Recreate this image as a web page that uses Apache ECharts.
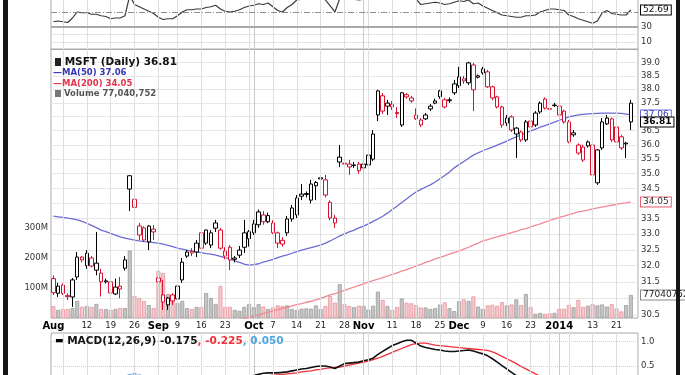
<!DOCTYPE html>
<html><head><meta charset="utf-8">
<script src="https://cdn.jsdelivr.net/npm/echarts@6/dist/echarts.min.js"></script>
<style>html,body{margin:0;padding:0;background:#fff;}#c{width:685px;height:375px;}</style>
</head><body><div id="c"></div>
<script>
// ---- trading days ----
const augDays=[1,2,5,6,7,8,9,12,13,14,15,16,19,20,21,22,23,26,27,28,29,30];
const sepDays=[3,4,5,6,9,10,11,12,13,16,17,18,19,20,23,24,25,26,27,30];
const octDays=[1,2,3,4,7,8,9,10,11,14,15,16,17,18,21,22,23,24,25,28,29,30,31];
const novDays=[1,4,5,6,7,8,11,12,13,14,15,18,19,20,21,22,25,26,27,29];
const decDays=[2,3,4,5,6,9,10,11,12,13,16,17,18,19,20,23,24,26,27,30,31];
const janDays=[2,3,6,7,8,9,10,13,14,15,16,17,21,22,23,24];

// ---- prices ----
const priorClose=31.84;
const opens=[31.60,31.15,31.40,31.08,31.04,31.65,32.27,32.00,32.24,31.86,31.77,31.50,31.50,31.13,31.37,31.92,34.93,34.14,33.26,33.20,32.75,33.16,
31.50,31.10,30.80,31.10,30.98,31.56,32.30,32.45,32.43,33.04,33.13,32.65,33.19,33.13,32.30,32.58,32.20,32.33,32.58,32.85,
33.04,33.30,33.62,33.40,33.36,33.04,32.80,33.04,33.49,33.62,34.31,34.30,34.11,34.59,34.82,34.79,34.04,33.52,35.57,35.36,35.33,35.28,35.33,
35.33,35.30,35.50,37.06,37.76,37.38,37.45,37.15,36.70,37.72,37.68,37.06,36.88,36.92,37.28,37.49,37.94,37.61,37.58,37.87,
38.13,38.31,38.24,38.91,38.45,38.61,38.65,38.09,37.72,37.35,36.77,36.99,36.38,36.45,36.17,36.84,36.70,37.17,37.64,37.29,37.40,
37.38,37.20,36.81,36.35,35.99,35.92,35.96,35.99,34.69,35.89,36.74,36.92,36.63,36.28,36.03,37.49];
const highs=[31.70,31.47,31.45,31.15,31.62,32.43,32.30,32.49,32.30,33.07,31.90,31.60,31.55,31.60,31.65,32.30,34.95,34.38,33.36,33.25,33.29,33.29,
31.92,31.56,31.04,31.15,31.47,32.24,32.49,32.55,32.81,33.10,33.15,33.13,33.46,33.20,32.58,32.65,32.30,32.62,33.46,33.13,
33.46,33.80,33.75,33.70,33.45,33.08,32.90,33.59,33.95,34.28,34.65,34.40,34.79,34.75,34.96,34.96,34.10,33.62,35.99,35.47,35.47,35.40,35.40,
35.40,35.82,36.52,37.98,37.86,37.61,37.57,37.35,37.90,37.86,37.75,37.30,36.95,37.13,37.45,37.65,37.98,37.68,37.70,38.35,
38.84,38.50,39.03,38.99,38.55,38.84,38.72,38.13,37.76,37.40,37.06,37.05,36.63,36.50,36.88,36.95,37.20,37.55,37.70,37.35,37.50,
37.45,37.25,36.88,36.52,36.05,36.00,36.15,36.05,35.85,36.95,37.06,36.97,36.70,36.35,36.10,37.61];
const lows=[31.10,31.04,31.10,30.95,30.74,31.56,32.10,31.90,31.95,31.70,31.05,31.45,31.05,31.10,31.00,31.85,33.75,33.71,32.81,32.75,32.49,32.81,
31.10,30.65,30.65,30.80,30.95,31.47,32.24,32.30,32.27,32.50,32.65,32.55,33.07,32.50,32.20,31.86,32.10,32.24,32.40,32.60,
32.97,33.20,33.30,33.35,33.00,32.55,32.60,32.94,33.40,33.52,34.11,34.20,34.00,34.11,34.62,34.20,33.45,33.20,35.23,34.96,34.96,35.20,35.00,
35.10,35.20,35.43,36.84,37.10,37.06,37.24,36.95,36.63,37.65,37.50,36.88,36.63,36.88,37.20,37.45,37.65,37.30,37.50,37.79,
38.05,38.20,38.16,37.20,38.40,38.54,38.05,37.60,37.30,36.60,36.66,36.45,35.54,36.10,36.10,36.55,36.63,37.10,37.25,37.20,37.35,
37.00,36.75,36.05,36.28,35.65,35.40,35.90,34.90,34.62,35.82,36.70,36.10,36.05,35.82,35.54,36.52];
const closes=[31.17,31.37,31.15,31.05,31.56,32.27,32.18,32.39,31.99,32.08,31.50,31.53,31.16,31.34,31.28,32.18,34.48,33.87,32.97,32.81,33.26,33.07,
31.62,30.89,31.01,30.92,31.37,32.11,32.43,32.40,32.71,32.55,32.71,33.04,33.36,32.55,32.46,32.18,32.24,32.49,33.04,33.08,
33.33,33.72,33.40,33.60,33.04,32.71,32.68,33.49,33.85,34.18,34.24,34.33,34.65,34.70,34.86,34.28,33.52,33.36,35.40,35.33,35.23,35.30,35.10,
35.20,35.64,36.38,37.94,37.20,37.49,37.35,37.11,37.87,37.80,37.57,36.92,36.70,37.06,37.38,37.57,37.72,37.35,37.61,38.20,
38.46,38.39,38.99,37.98,38.50,38.76,38.09,37.68,37.35,36.70,36.95,36.52,36.59,36.17,36.81,36.63,37.13,37.49,37.31,37.27,37.42,
37.06,36.81,36.10,36.42,35.71,35.47,36.10,34.96,35.82,36.81,36.95,36.17,36.10,35.89,36.06,36.81];
// volume, millions of shares
const volumes=[40,27,30,30,33,57,37,40,37,47,30,30,27,30,33,33,225,73,67,57,43,33,
157,150,80,57,50,57,33,30,37,37,83,67,47,107,37,37,27,24,37,47,
36,46,38,30,35,42,40,42,30,27,31,32,31,42,30,40,73,51,113,46,40,36,41,
40,28,41,88,60,40,27,37,65,51,49,43,35,35,30,33,45,52,33,23,
56,62,57,72,38,30,42,44,40,53,42,45,62,43,80,37,14,17,14,16,17,
31,31,44,36,60,37,41,46,42,45,38,46,32,22,43,77.040752];
const ma50=[33.58,33.56,33.54,33.52,33.49,33.46,33.41,33.35,33.28,33.21,33.13,
33.08,33.02,32.97,32.91,32.87,32.84,32.81,32.78,32.76,32.75,32.73,
32.71,32.68,32.64,32.60,32.55,32.52,32.49,32.46,32.43,32.41,
32.38,32.36,32.33,32.29,32.25,32.21,32.15,32.10,32.05,32.02,
32.03,32.06,32.11,32.15,32.20,32.25,32.30,32.34,32.39,32.44,
32.49,32.53,32.57,32.61,32.65,32.71,32.78,32.86,32.94,33.01,
33.07,33.13,33.20,33.26,33.33,33.41,33.49,33.58,33.68,33.80,
33.91,34.03,34.15,34.27,34.38,34.47,34.55,34.62,34.72,34.83,
34.94,35.06,35.20,35.31,35.42,35.53,35.64,35.72,35.79,35.86,
35.92,35.99,36.06,36.13,36.21,36.28,36.35,36.42,36.49,36.55,
36.62,36.68,36.74,36.80,36.87,36.93,36.99,37.03,37.06,37.08,
37.10,37.11,37.12,37.13,37.13,37.13,37.13,37.12,37.09,37.06];
const ma200Start=38;
const ma200=[30.32,30.36,30.39,30.43,30.47,30.50,30.54,30.58,
30.62,30.66,30.70,30.73,30.77,30.81,30.84,30.88,30.91,30.95,
31.00,31.05,31.10,31.14,31.19,31.24,31.29,31.34,31.39,31.44,
31.49,31.54,31.58,31.63,31.68,31.73,31.78,31.83,31.88,31.93,
31.99,32.04,32.10,32.15,32.21,32.26,32.31,32.36,32.41,32.46,
32.52,32.58,32.65,32.71,32.78,32.82,32.87,32.91,32.96,33.00,
33.05,33.09,33.14,33.18,33.23,33.28,33.33,33.39,33.44,33.49,
33.54,33.58,33.63,33.67,33.72,33.75,33.78,33.82,33.85,33.88,
33.91,33.94,33.97,34.00,34.02,34.05];
// ---- indicators ----
const rsi=[37,38,37,36,42,50,49,49,47,47,45,44,41,42,42,45,72,60,57,54,51,48,
43,40,41,41,45,50,53,53,54,54,56,57,59,54,51,50,51,53,56,58,
59,61,60,62,57,52,50,56,60,66,67,68,69,70,71,66,58,50,68,68,67,67,66,
67,68,71,78,72,73,72,69,74,74,73,67,60,61,62,63,62,60,61,63,
65,64,66,61,62,58,55,52,49,46,45,44,43,43,45,45,46,50,52,54,54,
53,52,46,44,41,39,37,35,38,49,52,48,47,46,46,52.69];
const macdStart=42;
const macd=[0.31,0.33,0.35,0.36,0.36,0.36,0.37,0.38,0.40,0.42,0.44,0.45,0.47,0.49,0.50,0.50,0.48,0.45,0.50,0.55,0.56,0.57,0.58,
0.61,0.63,0.66,0.74,0.80,0.86,0.92,0.96,1.00,1.03,1.03,0.97,0.91,0.88,0.86,0.84,0.83,0.81,0.80,0.80,
0.81,0.82,0.83,0.81,0.78,0.75,0.71,0.65,0.58,0.51,0.44,0.37,0.30,0.22];
const signalStart=45;
const signal=[0.30,0.31,0.32,0.33,0.34,0.35,0.36,0.38,0.39,0.40,0.42,0.43,0.45,0.46,0.47,0.48,0.50,0.52,0.54,0.56,
0.58,0.60,0.63,0.66,0.70,0.74,0.78,0.82,0.86,0.90,0.94,0.96,0.97,0.97,0.95,0.93,0.92,0.91,0.90,0.89,
0.88,0.87,0.86,0.85,0.84,0.83,0.82,0.79,0.75,0.70,0.65,0.60,0.55,0.49,0.44,0.39,0.34,0.29];
const histStart=16;
const hist=[0.34,0.36,0.33];
const macdLast=[-0.175,-0.225,0.050];

// ---- ticks ----
const priceTicks=[30.5,31.0,31.5,32.0,32.5,33.0,33.5,34.0,34.5,35.0,35.5,36.0,36.5,37.0,37.5,38.0,38.5,39.0];
const volTicks=[100,200,300];
const rsiTicks=[10,30];
const macdTicks=[0.5,1.0];
const tickLabels=[['2013-08-01','Aug',1],['2013-08-12','12'],['2013-08-19','19'],['2013-08-26','26'],
['2013-09-03','Sep',1],['2013-09-09','9'],['2013-09-16','16'],['2013-09-23','23'],
['2013-10-01','Oct',1],['2013-10-07','7'],['2013-10-14','14'],['2013-10-21','21'],['2013-10-28','28'],
['2013-11-01','Nov',1],['2013-11-11','11'],['2013-11-18','18'],['2013-11-25','25'],
['2013-12-02','Dec',1],['2013-12-09','9'],['2013-12-16','16'],['2013-12-23','23'],
['2014-01-02','2014',1],['2014-01-13','13'],['2014-01-21','21']];
const weekLines=['2013-08-05','2013-08-12','2013-08-19','2013-08-26','2013-09-03','2013-09-09','2013-09-16','2013-09-23','2013-09-30',
'2013-10-07','2013-10-14','2013-10-21','2013-10-28','2013-11-04','2013-11-11','2013-11-18','2013-11-25','2013-12-02','2013-12-09',
'2013-12-16','2013-12-23','2013-12-30','2014-01-06','2014-01-13','2014-01-21'];
const monthLines=['2013-10-01','2013-11-01','2014-01-02'];

// ---- build ----
const p2=n=>(n<10?'0':'')+n;
const cats=[];
[['2013-08',augDays],['2013-09',sepDays],['2013-10',octDays],['2013-11',novDays],['2013-12',decDays],['2014-01',janDays]]
  .forEach(([m,ds])=>ds.forEach(d=>cats.push(m+'-'+p2(d))));
const N=cats.length;
const axisCats=cats.concat(['']);
const pad=(start,arr)=>{const o=new Array(N).fill(null);arr.forEach((v,k)=>o[start+k]=v);return o;};
const RED='#d8112f', BLK='#000';
const upDay=closes.map((c,i)=>c>=(i?closes[i-1]:priorClose));
const candleData=closes.map((c,i)=>{const col=upDay[i]?BLK:RED;
  return {value:[opens[i],c,lows[i],highs[i]],itemStyle:{color:'#fff',color0:col,borderColor:col,borderColor0:col}};});
const volData=volumes.map((v,i)=>({value:v,itemStyle:upDay[i]?{color:'#c4c4c4',borderColor:'#9d9d9d'}:{color:'#f6c7cb',borderColor:'#e6969d'}}));
const labelMap={};tickLabels.forEach(t=>labelMap[t[0]]=t);
const F='DejaVu Sans';
const last=a=>a[a.length-1];
const vLines=()=>weekLines.map(d=>({xAxis:d,lineStyle:{color:'#dedede'}})).concat(monthLines.map(d=>({xAxis:d,lineStyle:{color:'#cacaca'}})));
const gridSeries=(g)=>({type:'line',xAxisIndex:g,yAxisIndex:g,data:[],z:1,silent:true,
  markLine:{silent:true,symbol:'none',label:{show:false},lineStyle:{width:1,type:'solid'},data:vLines(),animation:false}});
const boxLabel=(txt,border,color,bold)=>({show:true,position:'end',distance:3,formatter:txt,fontFamily:F,fontSize:9,lineHeight:9,
  fontWeight:bold?'bold':'normal',color:color,backgroundColor:'#fff',borderColor:border,borderWidth:1,padding:[0,2,0,2]});
const fmtVol=Math.round(last(volumes)*1e6);

const xAx=g=>({type:'category',gridIndex:g,data:axisCats,boundaryGap:true,axisLine:{show:false},axisTick:{show:false},splitLine:{show:false},
  axisLabel:g===1?{show:true,margin:3,interval:(i,v)=>!!labelMap[v],
    formatter:(v)=>{const t=labelMap[v];return t?(t[2]?'{m|'+t[1]+'}':'{d|'+t[1]+'}'):'';},
    rich:{m:{fontFamily:F,fontSize:10,fontWeight:'bold',color:'#000'},d:{fontFamily:F,fontSize:8.5,color:'#222'}}}:{show:false}});
const lbl={fontFamily:F,fontSize:8.5,color:'#333',margin:3};

const option={
  animation:false,
  backgroundColor:'#fff',
  grid:[
    {left:51,width:587,top:-10,height:59.5,show:true,borderColor:'#aaa',borderWidth:1,outerBoundsMode:'none'},
    {left:51,width:587,top:49,height:269,show:true,borderColor:'#aaa',borderWidth:1,outerBoundsMode:'none'},
    {left:51,width:587,top:49,height:269,show:false,outerBoundsMode:'none'},
    {left:51,width:587,top:333,height:60,show:true,borderColor:'#aaa',borderWidth:1,outerBoundsMode:'none'}
  ],
  xAxis:[xAx(0),xAx(1),xAx(2),xAx(3)],
  yAxis:[
    {gridIndex:0,type:'value',min:0,max:79.33,position:'right',axisLine:{show:false},
      axisTick:{show:false,customValues:[10,20]},axisLabel:Object.assign({customValues:rsiTicks},lbl),
      splitLine:{show:true,lineStyle:{color:'#e4e4e4'}}},
    {gridIndex:1,type:'log',logBase:10,min:30.41,max:39.52,position:'right',axisLine:{show:false},
      axisTick:{show:false,customValues:priceTicks},
      axisLabel:Object.assign({customValues:priceTicks,formatter:v=>(+v).toFixed(1)},lbl),
      splitLine:{show:true,lineStyle:{color:'#e6e6e6'}}},
    {gridIndex:2,type:'value',min:0,max:896.67,position:'left',axisLine:{show:false},
      axisTick:{show:false,customValues:volTicks},
      axisLabel:Object.assign({customValues:volTicks,formatter:v=>v+'M'},lbl),splitLine:{show:false}},
    {gridIndex:3,type:'value',min:-0.0546,max:1.179,position:'right',axisLine:{show:false},
      axisTick:{show:false,customValues:macdTicks},
      axisLabel:Object.assign({customValues:macdTicks,formatter:v=>(+v).toFixed(1)},lbl),
      splitLine:{show:true,lineStyle:{color:'#cfcfcf',type:'dotted'}}}
  ],
  title:[
    {left:55,top:56,padding:0,text:'{ic|}{t| MSFT (Daily) '+last(closes).toFixed(2)+'}',
      textStyle:{rich:{ic:{width:6,height:8,backgroundColor:'#222'},t:{fontFamily:F,fontSize:10.5,color:'#111',lineHeight:12}}}},
    {left:53,top:67.5,padding:0,text:'{l|—}{t|MA(50) '+last(ma50).toFixed(2)+'}',
      textStyle:{rich:{l:{fontFamily:F,fontSize:9,color:'#3535b5',fontWeight:'bold'},t:{fontFamily:F,fontSize:8.5,color:'#3535b5',lineHeight:11}}}},
    {left:53,top:78,padding:0,text:'{l|—}{t|MA(200) '+last(ma200).toFixed(2)+'}',
      textStyle:{rich:{l:{fontFamily:F,fontSize:9,color:'#e5334d',fontWeight:'bold'},t:{fontFamily:F,fontSize:8.5,color:'#e5334d',lineHeight:11}}}},
    {left:55,top:88,padding:0,text:'{ic|}{t| Volume '+fmtVol.toLocaleString('en-US')+'}',
      textStyle:{rich:{ic:{width:6,height:7,backgroundColor:'#777'},t:{fontFamily:F,fontSize:8.5,color:'#555',lineHeight:11}}}},
    {left:55,top:335,padding:0,text:'{l|▬}{t| MACD(12,26,9) '+macdLast[0].toFixed(3)+'}{r|, '+macdLast[1].toFixed(3)+'}{b|, '+macdLast[2].toFixed(3)+'}',
      textStyle:{rich:{l:{fontFamily:F,fontSize:9,color:'#000'},t:{fontFamily:F,fontSize:10.5,color:'#111',lineHeight:12},
        r:{fontFamily:F,fontSize:10.5,color:'#f0303a'},b:{fontFamily:F,fontSize:10.5,color:'#4ea6df'}}}}
  ],
  series:[
    gridSeries(0),gridSeries(1),gridSeries(3),
    {type:'bar',name:'Volume',xAxisIndex:2,yAxisIndex:2,data:volData,barWidth:4,z:2,itemStyle:{borderWidth:0.8},
      markLine:{silent:true,symbol:'none',data:[{yAxis:last(volumes),lineStyle:{color:'transparent'},label:boxLabel(String(fmtVol),'#888','#222',false)}]}},
    {type:'line',name:'MA(50)',xAxisIndex:1,yAxisIndex:1,data:ma50,symbol:'none',z:3,lineStyle:{color:'#6b6bd3',width:1.3},
      markLine:{silent:true,symbol:'none',data:[{yAxis:last(ma50),lineStyle:{color:'transparent'},label:boxLabel(last(ma50).toFixed(2),'#6b6bd3','#3a3aa8',false)}]}},
    {type:'line',name:'MA(200)',xAxisIndex:1,yAxisIndex:1,data:pad(ma200Start,ma200),symbol:'none',z:3,lineStyle:{color:'#f08995',width:1.3},
      markLine:{silent:true,symbol:'none',data:[{yAxis:last(ma200),lineStyle:{color:'transparent'},label:boxLabel(last(ma200).toFixed(2),'#e8606f','#333',false)}]}},
    {type:'candlestick',name:'MSFT',xAxisIndex:1,yAxisIndex:1,data:candleData,barWidth:4,z:4,itemStyle:{borderWidth:1},
      markLine:{silent:true,symbol:'none',data:[{yAxis:last(closes),lineStyle:{color:'transparent'},label:boxLabel(last(closes).toFixed(2),'#000','#000',true)}]}},
    {type:'line',name:'RSI',xAxisIndex:0,yAxisIndex:0,data:rsi,symbol:'none',z:3,lineStyle:{color:'#3a3a3a',width:1.2},
      markLine:{silent:true,symbol:'none',data:[
        {yAxis:30,lineStyle:{color:'#a9a9a9',width:2,type:'solid'},label:{show:false}},
        {yAxis:50,lineStyle:{color:'#8e8e8e',width:1,type:[6,2,1,2]},label:{show:false}},
        {yAxis:last(rsi),lineStyle:{color:'transparent'},label:boxLabel(last(rsi).toFixed(2),'#000','#111',false)}]}},
    {type:'bar',name:'Hist',xAxisIndex:3,yAxisIndex:3,data:pad(histStart,hist),barWidth:4,z:2,itemStyle:{color:'#86b6e0'}},
    {type:'line',name:'Signal',xAxisIndex:3,yAxisIndex:3,data:pad(signalStart,signal),symbol:'none',z:3,lineStyle:{color:'#f0303a',width:1.3}},
    {type:'line',name:'MACD',xAxisIndex:3,yAxisIndex:3,data:pad(macdStart,macd),symbol:'none',z:4,lineStyle:{color:'#111',width:1.6}}
  ],
  graphic:[
    {type:'rect',left:3,top:0,shape:{width:5,height:375},style:{fill:'#161616'},z:100},
    {type:'rect',left:676,top:0,shape:{width:4,height:375},style:{fill:'#161616'},z:100}
  ]
};
const chart=echarts.init(document.getElementById('c'),null,{renderer:'canvas'});
chart.setOption(option);
</script>
</body></html>
